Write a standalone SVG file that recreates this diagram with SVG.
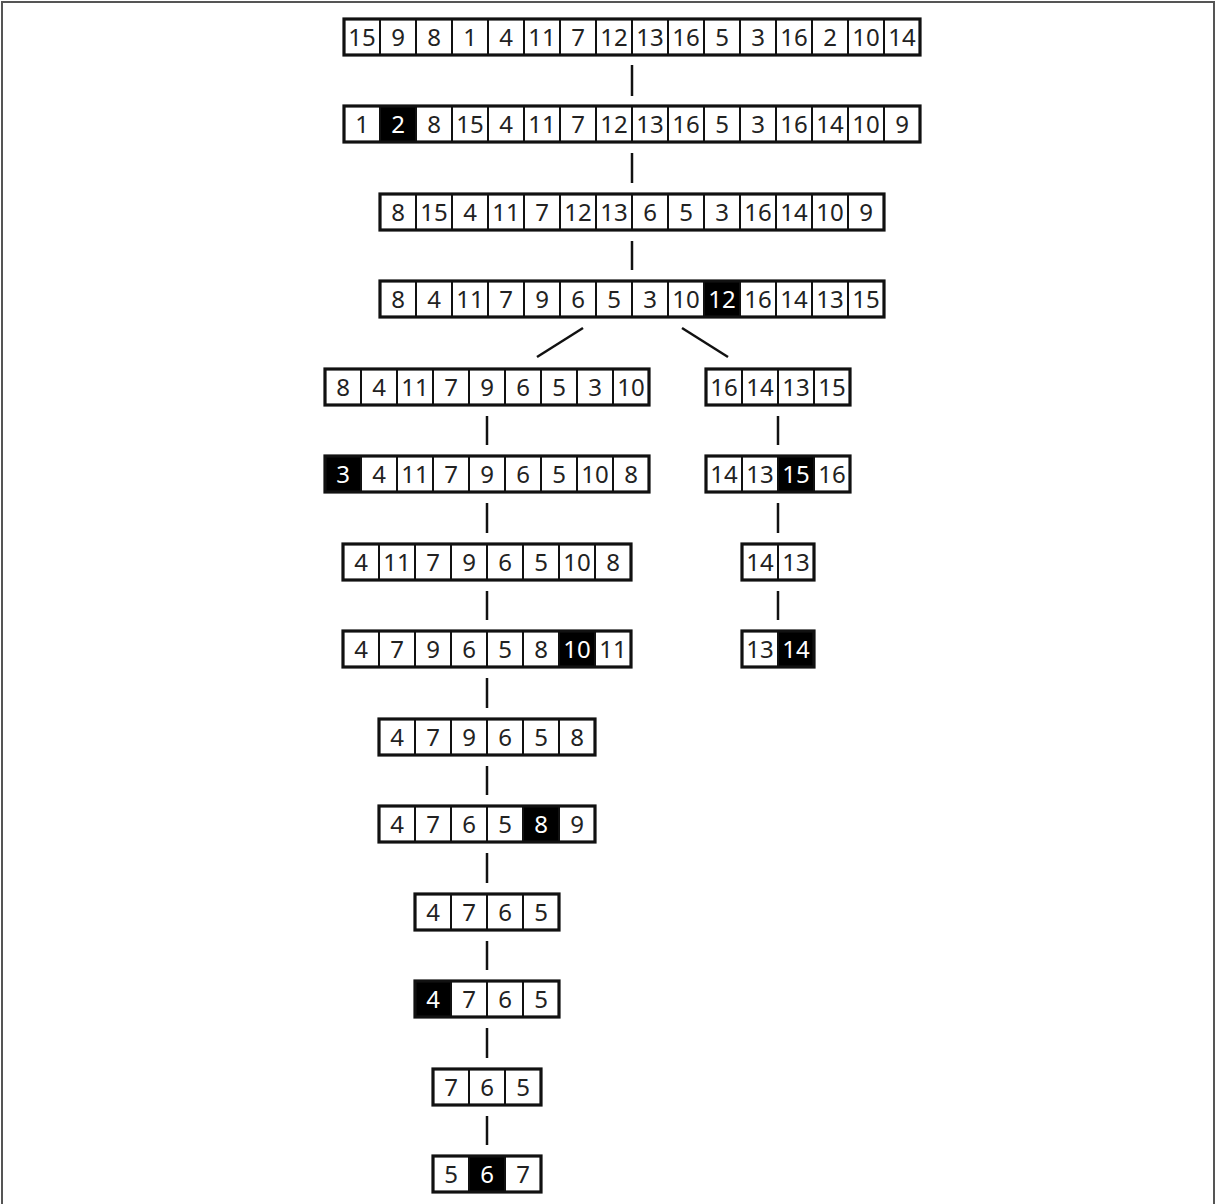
<svg xmlns="http://www.w3.org/2000/svg" width="1216" height="1204" viewBox="0 0 1216 1204">
<style>
.c{fill:#fff;stroke:#111;stroke-width:2}
.k{fill:#000;stroke:#111;stroke-width:2}
.o{fill:none;stroke:#111;stroke-width:3.2}
text{font-family:"Noto Sans","Open Sans","DejaVu Sans",sans-serif;font-size:24px;text-anchor:middle;fill:#222}
text.w{fill:#fff}
.ln{stroke:#111;stroke-width:2.5;fill:none}
</style>
<rect x="0" y="0" width="1216" height="1204" fill="#fff"/>
<path d="M2,1204 V2 H1214 V1204" fill="none" stroke="#555" stroke-width="2"/>
<g id="connectors">
<line class="ln" x1="632" y1="65" x2="632" y2="96"/>
<line class="ln" x1="632" y1="153" x2="632" y2="183"/>
<line class="ln" x1="632" y1="241" x2="632" y2="270"/>
<line class="ln" x1="583" y1="328" x2="537" y2="357"/>
<line class="ln" x1="682" y1="328" x2="728" y2="357"/>
<line class="ln" x1="487" y1="416" x2="487" y2="445"/>
<line class="ln" x1="487" y1="503" x2="487" y2="533"/>
<line class="ln" x1="487" y1="591" x2="487" y2="620"/>
<line class="ln" x1="487" y1="678" x2="487" y2="708"/>
<line class="ln" x1="487" y1="766" x2="487" y2="795"/>
<line class="ln" x1="487" y1="853" x2="487" y2="883"/>
<line class="ln" x1="487" y1="941" x2="487" y2="970"/>
<line class="ln" x1="487" y1="1028" x2="487" y2="1058"/>
<line class="ln" x1="487" y1="1116" x2="487" y2="1145" stroke-width="3.5"/>
<line class="ln" x1="778" y1="416" x2="778" y2="445"/>
<line class="ln" x1="778" y1="503" x2="778" y2="533"/>
<line class="ln" x1="778" y1="591" x2="778" y2="620"/>
</g>
<g id="r1">
<rect class="c" x="344" y="19" width="36" height="36"/><rect class="c" x="380" y="19" width="36" height="36"/><rect class="c" x="416" y="19" width="36" height="36"/><rect class="c" x="452" y="19" width="36" height="36"/><rect class="c" x="488" y="19" width="36" height="36"/><rect class="c" x="524" y="19" width="36" height="36"/><rect class="c" x="560" y="19" width="36" height="36"/><rect class="c" x="596" y="19" width="36" height="36"/><rect class="c" x="632" y="19" width="36" height="36"/><rect class="c" x="668" y="19" width="36" height="36"/><rect class="c" x="704" y="19" width="36" height="36"/><rect class="c" x="740" y="19" width="36" height="36"/><rect class="c" x="776" y="19" width="36" height="36"/><rect class="c" x="812" y="19" width="36" height="36"/><rect class="c" x="848" y="19" width="36" height="36"/><rect class="c" x="884" y="19" width="36" height="36"/>
<rect class="o" x="344" y="19" width="576" height="36"/>
<text x="362" y="46">15</text><text x="398" y="46">9</text><text x="434" y="46">8</text><text x="470" y="46">1</text><text x="506" y="46">4</text><text x="542" y="46">11</text><text x="578" y="46">7</text><text x="614" y="46">12</text><text x="650" y="46">13</text><text x="686" y="46">16</text><text x="722" y="46">5</text><text x="758" y="46">3</text><text x="794" y="46">16</text><text x="830" y="46">2</text><text x="866" y="46">10</text><text x="902" y="46">14</text>
</g>
<g id="r2">
<rect class="c" x="344" y="106" width="36" height="36"/><rect class="k" x="380" y="106" width="36" height="36"/><rect class="c" x="416" y="106" width="36" height="36"/><rect class="c" x="452" y="106" width="36" height="36"/><rect class="c" x="488" y="106" width="36" height="36"/><rect class="c" x="524" y="106" width="36" height="36"/><rect class="c" x="560" y="106" width="36" height="36"/><rect class="c" x="596" y="106" width="36" height="36"/><rect class="c" x="632" y="106" width="36" height="36"/><rect class="c" x="668" y="106" width="36" height="36"/><rect class="c" x="704" y="106" width="36" height="36"/><rect class="c" x="740" y="106" width="36" height="36"/><rect class="c" x="776" y="106" width="36" height="36"/><rect class="c" x="812" y="106" width="36" height="36"/><rect class="c" x="848" y="106" width="36" height="36"/><rect class="c" x="884" y="106" width="36" height="36"/>
<rect class="o" x="344" y="106" width="576" height="36"/>
<text x="362" y="133">1</text><text class="w" x="398" y="133">2</text><text x="434" y="133">8</text><text x="470" y="133">15</text><text x="506" y="133">4</text><text x="542" y="133">11</text><text x="578" y="133">7</text><text x="614" y="133">12</text><text x="650" y="133">13</text><text x="686" y="133">16</text><text x="722" y="133">5</text><text x="758" y="133">3</text><text x="794" y="133">16</text><text x="830" y="133">14</text><text x="866" y="133">10</text><text x="902" y="133">9</text>
</g>
<g id="r3">
<rect class="c" x="380" y="194" width="36" height="36"/><rect class="c" x="416" y="194" width="36" height="36"/><rect class="c" x="452" y="194" width="36" height="36"/><rect class="c" x="488" y="194" width="36" height="36"/><rect class="c" x="524" y="194" width="36" height="36"/><rect class="c" x="560" y="194" width="36" height="36"/><rect class="c" x="596" y="194" width="36" height="36"/><rect class="c" x="632" y="194" width="36" height="36"/><rect class="c" x="668" y="194" width="36" height="36"/><rect class="c" x="704" y="194" width="36" height="36"/><rect class="c" x="740" y="194" width="36" height="36"/><rect class="c" x="776" y="194" width="36" height="36"/><rect class="c" x="812" y="194" width="36" height="36"/><rect class="c" x="848" y="194" width="36" height="36"/>
<rect class="o" x="380" y="194" width="504" height="36"/>
<text x="398" y="221">8</text><text x="434" y="221">15</text><text x="470" y="221">4</text><text x="506" y="221">11</text><text x="542" y="221">7</text><text x="578" y="221">12</text><text x="614" y="221">13</text><text x="650" y="221">6</text><text x="686" y="221">5</text><text x="722" y="221">3</text><text x="758" y="221">16</text><text x="794" y="221">14</text><text x="830" y="221">10</text><text x="866" y="221">9</text>
</g>
<g id="r4">
<rect class="c" x="380" y="281" width="36" height="36"/><rect class="c" x="416" y="281" width="36" height="36"/><rect class="c" x="452" y="281" width="36" height="36"/><rect class="c" x="488" y="281" width="36" height="36"/><rect class="c" x="524" y="281" width="36" height="36"/><rect class="c" x="560" y="281" width="36" height="36"/><rect class="c" x="596" y="281" width="36" height="36"/><rect class="c" x="632" y="281" width="36" height="36"/><rect class="c" x="668" y="281" width="36" height="36"/><rect class="k" x="704" y="281" width="36" height="36"/><rect class="c" x="740" y="281" width="36" height="36"/><rect class="c" x="776" y="281" width="36" height="36"/><rect class="c" x="812" y="281" width="36" height="36"/><rect class="c" x="848" y="281" width="36" height="36"/>
<rect class="o" x="380" y="281" width="504" height="36"/>
<text x="398" y="308">8</text><text x="434" y="308">4</text><text x="470" y="308">11</text><text x="506" y="308">7</text><text x="542" y="308">9</text><text x="578" y="308">6</text><text x="614" y="308">5</text><text x="650" y="308">3</text><text x="686" y="308">10</text><text class="w" x="722" y="308">12</text><text x="758" y="308">16</text><text x="794" y="308">14</text><text x="830" y="308">13</text><text x="866" y="308">15</text>
</g>
<g id="r5l">
<rect class="c" x="325" y="369" width="36" height="36"/><rect class="c" x="361" y="369" width="36" height="36"/><rect class="c" x="397" y="369" width="36" height="36"/><rect class="c" x="433" y="369" width="36" height="36"/><rect class="c" x="469" y="369" width="36" height="36"/><rect class="c" x="505" y="369" width="36" height="36"/><rect class="c" x="541" y="369" width="36" height="36"/><rect class="c" x="577" y="369" width="36" height="36"/><rect class="c" x="613" y="369" width="36" height="36"/>
<rect class="o" x="325" y="369" width="324" height="36"/>
<text x="343" y="396">8</text><text x="379" y="396">4</text><text x="415" y="396">11</text><text x="451" y="396">7</text><text x="487" y="396">9</text><text x="523" y="396">6</text><text x="559" y="396">5</text><text x="595" y="396">3</text><text x="631" y="396">10</text>
</g>
<g id="r5r">
<rect class="c" x="706" y="369" width="36" height="36"/><rect class="c" x="742" y="369" width="36" height="36"/><rect class="c" x="778" y="369" width="36" height="36"/><rect class="c" x="814" y="369" width="36" height="36"/>
<rect class="o" x="706" y="369" width="144" height="36"/>
<text x="724" y="396">16</text><text x="760" y="396">14</text><text x="796" y="396">13</text><text x="832" y="396">15</text>
</g>
<g id="r6l">
<rect class="k" x="325" y="456" width="36" height="36"/><rect class="c" x="361" y="456" width="36" height="36"/><rect class="c" x="397" y="456" width="36" height="36"/><rect class="c" x="433" y="456" width="36" height="36"/><rect class="c" x="469" y="456" width="36" height="36"/><rect class="c" x="505" y="456" width="36" height="36"/><rect class="c" x="541" y="456" width="36" height="36"/><rect class="c" x="577" y="456" width="36" height="36"/><rect class="c" x="613" y="456" width="36" height="36"/>
<rect class="o" x="325" y="456" width="324" height="36"/>
<text class="w" x="343" y="483">3</text><text x="379" y="483">4</text><text x="415" y="483">11</text><text x="451" y="483">7</text><text x="487" y="483">9</text><text x="523" y="483">6</text><text x="559" y="483">5</text><text x="595" y="483">10</text><text x="631" y="483">8</text>
</g>
<g id="r6r">
<rect class="c" x="706" y="456" width="36" height="36"/><rect class="c" x="742" y="456" width="36" height="36"/><rect class="k" x="778" y="456" width="36" height="36"/><rect class="c" x="814" y="456" width="36" height="36"/>
<rect class="o" x="706" y="456" width="144" height="36"/>
<text x="724" y="483">14</text><text x="760" y="483">13</text><text class="w" x="796" y="483">15</text><text x="832" y="483">16</text>
</g>
<g id="r7l">
<rect class="c" x="343" y="544" width="36" height="36"/><rect class="c" x="379" y="544" width="36" height="36"/><rect class="c" x="415" y="544" width="36" height="36"/><rect class="c" x="451" y="544" width="36" height="36"/><rect class="c" x="487" y="544" width="36" height="36"/><rect class="c" x="523" y="544" width="36" height="36"/><rect class="c" x="559" y="544" width="36" height="36"/><rect class="c" x="595" y="544" width="36" height="36"/>
<rect class="o" x="343" y="544" width="288" height="36"/>
<text x="361" y="571">4</text><text x="397" y="571">11</text><text x="433" y="571">7</text><text x="469" y="571">9</text><text x="505" y="571">6</text><text x="541" y="571">5</text><text x="577" y="571">10</text><text x="613" y="571">8</text>
</g>
<g id="r7r">
<rect class="c" x="742" y="544" width="36" height="36"/><rect class="c" x="778" y="544" width="36" height="36"/>
<rect class="o" x="742" y="544" width="72" height="36"/>
<text x="760" y="571">14</text><text x="796" y="571">13</text>
</g>
<g id="r8l">
<rect class="c" x="343" y="631" width="36" height="36"/><rect class="c" x="379" y="631" width="36" height="36"/><rect class="c" x="415" y="631" width="36" height="36"/><rect class="c" x="451" y="631" width="36" height="36"/><rect class="c" x="487" y="631" width="36" height="36"/><rect class="c" x="523" y="631" width="36" height="36"/><rect class="k" x="559" y="631" width="36" height="36"/><rect class="c" x="595" y="631" width="36" height="36"/>
<rect class="o" x="343" y="631" width="288" height="36"/>
<text x="361" y="658">4</text><text x="397" y="658">7</text><text x="433" y="658">9</text><text x="469" y="658">6</text><text x="505" y="658">5</text><text x="541" y="658">8</text><text class="w" x="577" y="658">10</text><text x="613" y="658">11</text>
</g>
<g id="r8r">
<rect class="c" x="742" y="631" width="36" height="36"/><rect class="k" x="778" y="631" width="36" height="36"/>
<rect class="o" x="742" y="631" width="72" height="36"/>
<text x="760" y="658">13</text><text class="w" x="796" y="658">14</text>
</g>
<g id="r9">
<rect class="c" x="379" y="719" width="36" height="36"/><rect class="c" x="415" y="719" width="36" height="36"/><rect class="c" x="451" y="719" width="36" height="36"/><rect class="c" x="487" y="719" width="36" height="36"/><rect class="c" x="523" y="719" width="36" height="36"/><rect class="c" x="559" y="719" width="36" height="36"/>
<rect class="o" x="379" y="719" width="216" height="36"/>
<text x="397" y="746">4</text><text x="433" y="746">7</text><text x="469" y="746">9</text><text x="505" y="746">6</text><text x="541" y="746">5</text><text x="577" y="746">8</text>
</g>
<g id="r10">
<rect class="c" x="379" y="806" width="36" height="36"/><rect class="c" x="415" y="806" width="36" height="36"/><rect class="c" x="451" y="806" width="36" height="36"/><rect class="c" x="487" y="806" width="36" height="36"/><rect class="k" x="523" y="806" width="36" height="36"/><rect class="c" x="559" y="806" width="36" height="36"/>
<rect class="o" x="379" y="806" width="216" height="36"/>
<text x="397" y="833">4</text><text x="433" y="833">7</text><text x="469" y="833">6</text><text x="505" y="833">5</text><text class="w" x="541" y="833">8</text><text x="577" y="833">9</text>
</g>
<g id="r11">
<rect class="c" x="415" y="894" width="36" height="36"/><rect class="c" x="451" y="894" width="36" height="36"/><rect class="c" x="487" y="894" width="36" height="36"/><rect class="c" x="523" y="894" width="36" height="36"/>
<rect class="o" x="415" y="894" width="144" height="36"/>
<text x="433" y="921">4</text><text x="469" y="921">7</text><text x="505" y="921">6</text><text x="541" y="921">5</text>
</g>
<g id="r12">
<rect class="k" x="415" y="981" width="36" height="36"/><rect class="c" x="451" y="981" width="36" height="36"/><rect class="c" x="487" y="981" width="36" height="36"/><rect class="c" x="523" y="981" width="36" height="36"/>
<rect class="o" x="415" y="981" width="144" height="36"/>
<text class="w" x="433" y="1008">4</text><text x="469" y="1008">7</text><text x="505" y="1008">6</text><text x="541" y="1008">5</text>
</g>
<g id="r13">
<rect class="c" x="433" y="1069" width="36" height="36"/><rect class="c" x="469" y="1069" width="36" height="36"/><rect class="c" x="505" y="1069" width="36" height="36"/>
<rect class="o" x="433" y="1069" width="108" height="36"/>
<text x="451" y="1096">7</text><text x="487" y="1096">6</text><text x="523" y="1096">5</text>
</g>
<g id="r14">
<rect class="c" x="433" y="1156" width="36" height="36"/><rect class="k" x="469" y="1156" width="36" height="36"/><rect class="c" x="505" y="1156" width="36" height="36"/>
<rect class="o" x="433" y="1156" width="108" height="36"/>
<text x="451" y="1183">5</text><text class="w" x="487" y="1183">6</text><text x="523" y="1183">7</text>
</g>
</svg>
